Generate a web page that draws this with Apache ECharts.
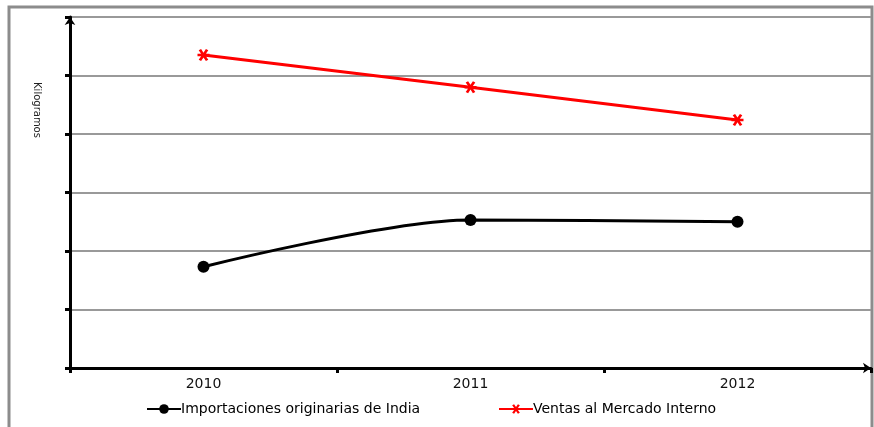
<!DOCTYPE html>
<html>
<head>
<meta charset="utf-8">
<script src="https://cdn.jsdelivr.net/npm/echarts@6/dist/echarts.min.js"></script>
<style>html,body{margin:0;padding:0;background:#fff;}#c{width:874px;height:427px;}</style>
</head>
<body>
<div id="c"></div>
<script>
var categories = ['2010', '2011', '2012'];
var importaciones = [1.73, 2.53, 2.50];
var ventas = [5.35, 4.80, 4.24];
var seriesNames = ['Importaciones originarias de India', 'Ventas al Mercado Interno'];
var yAxisName = 'Kilogramos';

var chart = echarts.init(document.getElementById('c'));
var starPath = 'path://M0,4L3,4L1,1L3,0L5,3L7,0L9,1L7,4L10,4L10,6L7,6L9,9L7,10L5,7L3,10L1,9L3,6L0,6Z';
var legendText = {fontFamily: 'DejaVu Sans', fontSize: 14, color: '#000', padding: [0,0,0,-5]};
chart.setOption({
  animation: false,
  backgroundColor: '#fff',
  graphic: [{
    type: 'rect', z: -1,
    shape: {x: 9, y: 7, width: 863, height: 440},
    style: {fill: 'none', stroke: '#8c8c8c', lineWidth: 3}
  }, {
    type: 'text', x: 37, y: 110, rotation: -Math.PI / 2,
    style: {text: yAxisName, fontFamily: 'DejaVu Sans', fontSize: 10, fill: '#222', align: 'center', verticalAlign: 'middle'}
  }],
  grid: {left: 70, right: 3, top: 17, bottom: 59},
  legend: [{
    bottom: 6, left: 141, itemWidth: 34, itemHeight: 12,
    textStyle: legendText,
    data: [seriesNames[0]]
  }, {
    bottom: 6, left: 493, itemWidth: 34, itemHeight: 12,
    textStyle: legendText,
    data: [seriesNames[1]]
  }],
  xAxis: {
    type: 'category', data: categories, boundaryGap: true,
    axisLine: {lineStyle: {color: '#000', width: 3}, symbol: ['none', 'arrow'], symbolSize: [8, 8]},
    axisTick: {show: true, length: 5, lineStyle: {color: '#000', width: 3}},
    axisLabel: {fontFamily: 'DejaVu Sans', fontSize: 14, color: '#111', margin: 9}
  },
  yAxis: {
    type: 'value', min: 0, max: 6, interval: 1,
    axisLine: {show: true, lineStyle: {color: '#000', width: 3}, symbol: ['none', 'arrow'], symbolSize: [8, 8]},
    axisTick: {show: true, length: 5, lineStyle: {color: '#000', width: 3}},
    axisLabel: {show: false},
    splitLine: {lineStyle: {color: '#999', width: 2}}
  },
  series: [{
    name: seriesNames[0], type: 'line', data: importaciones, smooth: 0.3,
    symbol: 'circle', symbolSize: 12,
    lineStyle: {color: '#000', width: 3},
    itemStyle: {color: '#000'}
  }, {
    name: seriesNames[1], type: 'line', data: ventas,
    symbol: starPath, symbolSize: 12,
    lineStyle: {color: '#ff0000', width: 3},
    itemStyle: {color: '#ff0000'}
  }]
});
</script>
</body>
</html>
